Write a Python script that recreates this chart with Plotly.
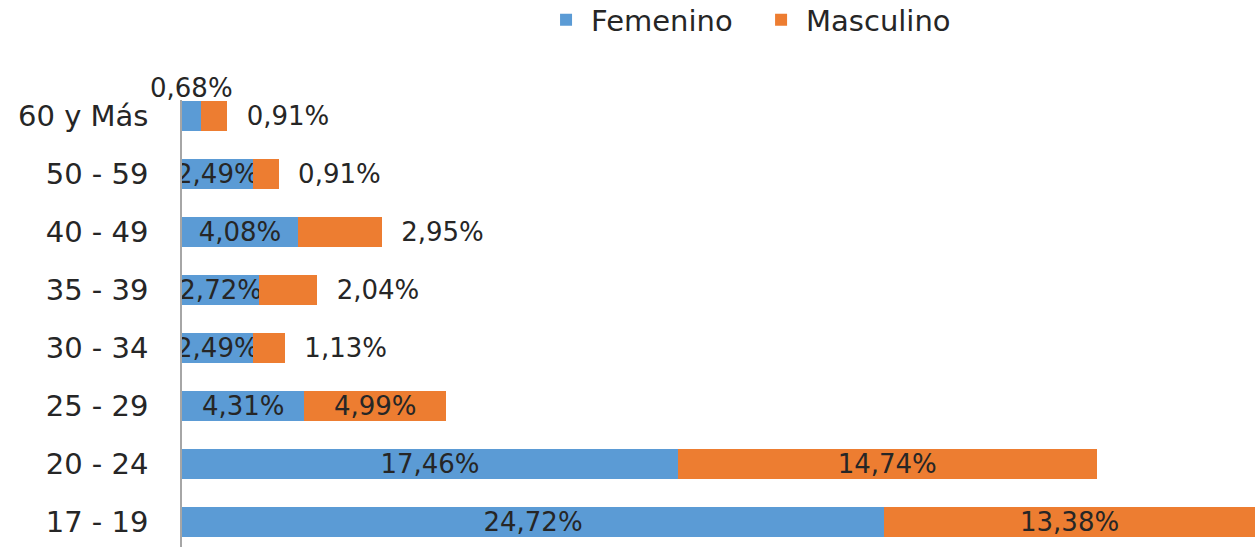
import plotly.graph_objects as go

grupos = ['17 - 19', '20 - 24', '25 - 29', '30 - 34', '35 - 39', '40 - 49', '50 - 59', '60 y Más']
femenino = [24.72, 17.46, 4.31, 2.49, 2.72, 4.08, 2.49, 0.68]
masculino = [13.38, 14.74, 4.99, 1.13, 2.04, 2.95, 0.91, 0.91]

x_max = 37.78  # the longest bar runs off the right edge in the original


def pct(v):
    return ('%.2f' % v).replace('.', ',') + '%'


fnt = 'DejaVu Sans'
txt_color = '#262626'

# the smallest femenino label sits above its bar, as an annotation
fem_text = [pct(v) if v >= 1 else '' for v in femenino]
fem_pos = ['inside' if v >= 1 else 'none' for v in femenino]

# small masculino values go outside the bar end; a cut-off bar gets an annotation
masc_pos = []
for f, m in zip(femenino, masculino):
    if f + m > x_max:
        masc_pos.append('none')
    elif m >= 4:
        masc_pos.append('inside')
    else:
        masc_pos.append('outside')
masc_text = [pct(v) if p == 'inside' else '\u00a0\u00a0' + pct(v) for v, p in zip(masculino, masc_pos)]

fig = go.Figure()
fig.add_trace(go.Bar(
    y=grupos, x=femenino, orientation='h', name='Femenino\u00a0\u00a0',
    marker=dict(color='#5B9BD5', line=dict(width=0)),
    text=fem_text, textposition=fem_pos, textangle=0,
    constraintext='none', insidetextanchor='middle',
    textfont=dict(family=fnt, size=26, color=txt_color),
    hoverinfo='skip',
))
fig.add_trace(go.Bar(
    y=grupos, x=masculino, orientation='h', name='Masculino',
    marker=dict(color='#ED7D31', line=dict(width=0)),
    text=masc_text, textposition=masc_pos, textangle=0,
    constraintext='none', insidetextanchor='middle',
    textfont=dict(family=fnt, size=26, color=txt_color),
    hoverinfo='skip',
))

for g, f, m in zip(grupos, femenino, masculino):
    if f < 1:
        fig.add_annotation(x=f / 2, y=g, text=pct(f), showarrow=False,
                           yshift=28, font=dict(family=fnt, size=26, color=txt_color))
    if f + m > x_max:
        fig.add_annotation(x=(f + x_max) / 2, y=g, text=pct(m), showarrow=False,
                           font=dict(family=fnt, size=26, color=txt_color))

fig.update_layout(
    width=1255, height=547,
    margin=dict(l=182, r=0, t=100, b=0, autoexpand=False),
    barmode='stack', bargap=0.48,
    paper_bgcolor='white', plot_bgcolor='white',
    font=dict(family=fnt, size=26, color=txt_color),
    legend=dict(orientation='h', x=0.528, xanchor='center', y=1.179, yanchor='middle',
                font=dict(family=fnt, size=29, color=txt_color), traceorder='normal',
                itemwidth=40),
    xaxis=dict(range=[0, x_max], showgrid=False, zeroline=False, showticklabels=False,
               showline=False, fixedrange=True),
    yaxis=dict(categoryorder='array', categoryarray=grupos, range=[-0.431, 7.276],
               showgrid=False, zeroline=False, showline=True, linecolor='#A6A6A6', linewidth=1.5,
               ticks='', ticklabelstandoff=26, automargin=False, fixedrange=True,
               tickfont=dict(family=fnt, size=29, color=txt_color)),
)

fig.write_html('out.html', config={'displayModeBar': False},
               post_script="document.body.style.margin='0';")
